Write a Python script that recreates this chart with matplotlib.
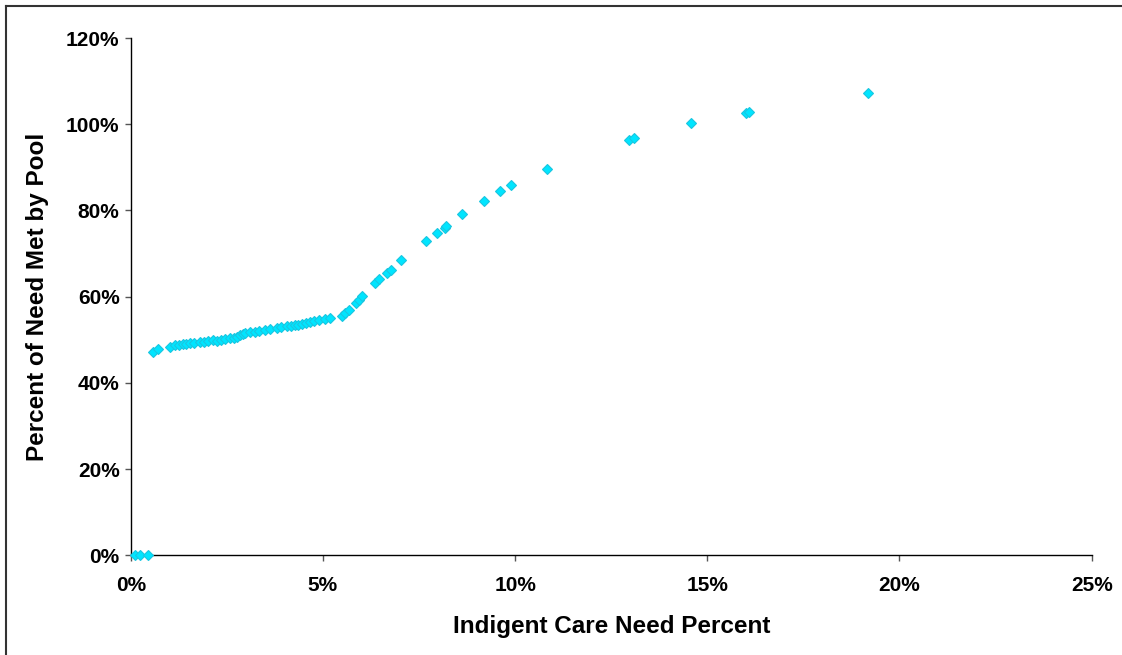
import matplotlib
matplotlib.use("Agg")
import matplotlib.pyplot as plt
from matplotlib.lines import Line2D
from matplotlib.ticker import FuncFormatter, MultipleLocator

# indigent care need percent (x) vs percent of need met by pool (y), in %
need_pct = [0.11, 0.24, 0.46,
            0.59, 0.72, 1.02, 1.15, 1.25, 1.36, 1.45, 1.54, 1.65, 1.80, 1.90,
            2.01, 2.14, 2.24, 2.35, 2.46, 2.59, 2.68, 2.76, 2.85, 2.92, 2.98,
            3.10, 3.24, 3.35, 3.50, 3.62, 3.80, 3.92, 4.06, 4.18, 4.28, 4.36,
            4.45, 4.55, 4.67, 4.78, 4.89, 5.06, 5.19,
            5.49, 5.58, 5.67, 5.87, 5.95, 6.02,
            6.36, 6.47, 6.67, 6.77, 7.04, 7.68, 7.97, 8.17, 8.21, 8.62,
            9.18, 9.62, 9.90, 10.82, 12.96, 13.09, 14.58, 16.00, 16.08, 19.18]
met_pct = [0.0, 0.0, 0.0,
           47.2, 47.8, 48.4, 48.8, 48.9, 49.1, 49.1, 49.2, 49.3, 49.4, 49.5,
           49.6, 49.95, 49.8, 50.0, 50.1, 50.3, 50.5, 50.7, 51.0, 51.3, 51.5,
           51.7, 51.9, 52.0, 52.2, 52.4, 52.7, 52.9, 53.1, 53.3, 53.4, 53.5,
           53.7, 53.9, 54.2, 54.4, 54.6, 54.8, 55.0,
           55.6, 56.1, 56.9, 58.6, 59.3, 60.2,
           63.1, 64.0, 65.4, 66.2, 68.4, 73.0, 74.8, 75.9, 76.4, 79.1,
           82.2, 84.4, 85.8, 89.6, 96.4, 96.7, 100.2, 102.7, 102.9, 107.3]

x_label = "Indigent Care Need Percent"
y_label = "Percent of Need Met by Pool"

plt.rcParams['font.family'] = ['Liberation Sans', 'DejaVu Sans']

fig = plt.figure(figsize=(11.22, 6.55), dpi=100)
ax = fig.add_axes([130.7 / 1122, 1 - 555.3 / 655, (1091.7 - 130.7) / 1122, (555.3 - 38) / 655])

ax.plot(need_pct, met_pct, linestyle='none', marker='D', markersize=5.2,
        markerfacecolor='#00E5FF', markeredgecolor='#1AC6E0', markeredgewidth=0.8,
        clip_on=False, zorder=3)

ax.set_xlim(0, 25)
ax.set_ylim(0, 120)
ax.xaxis.set_major_locator(MultipleLocator(5))
ax.yaxis.set_major_locator(MultipleLocator(20))
pct = FuncFormatter(lambda v, p: f"{v:.0f}%")
ax.xaxis.set_major_formatter(pct)
ax.yaxis.set_major_formatter(pct)

for side in ['top', 'right']:
    ax.spines[side].set_visible(False)
for side in ['left', 'bottom']:
    ax.spines[side].set_color('black')
    ax.spines[side].set_linewidth(1.0)

ax.tick_params(axis='both', direction='out', length=4, width=1, color='#555555',
               labelsize=15)
ax.tick_params(axis='x', pad=11)
ax.tick_params(axis='y', pad=4)
for lbl in ax.get_xticklabels() + ax.get_yticklabels():
    lbl.set_fontweight('bold')

ax.set_xlabel(x_label, fontsize=17.5, fontweight='bold', labelpad=14)
ax.set_ylabel(y_label, fontsize=17.5, fontweight='bold', labelpad=12)

# chart area border (left and top only visible)
fig.add_artist(Line2D([6 / 1122, 6 / 1122], [0, 1 - 5.5 / 655], transform=fig.transFigure,
                      color='#333333', linewidth=1.5))
fig.add_artist(Line2D([6 / 1122, 1], [1 - 5.5 / 655, 1 - 5.5 / 655], transform=fig.transFigure,
                      color='#333333', linewidth=1.5))

fig.savefig("out.png", dpi=100)
